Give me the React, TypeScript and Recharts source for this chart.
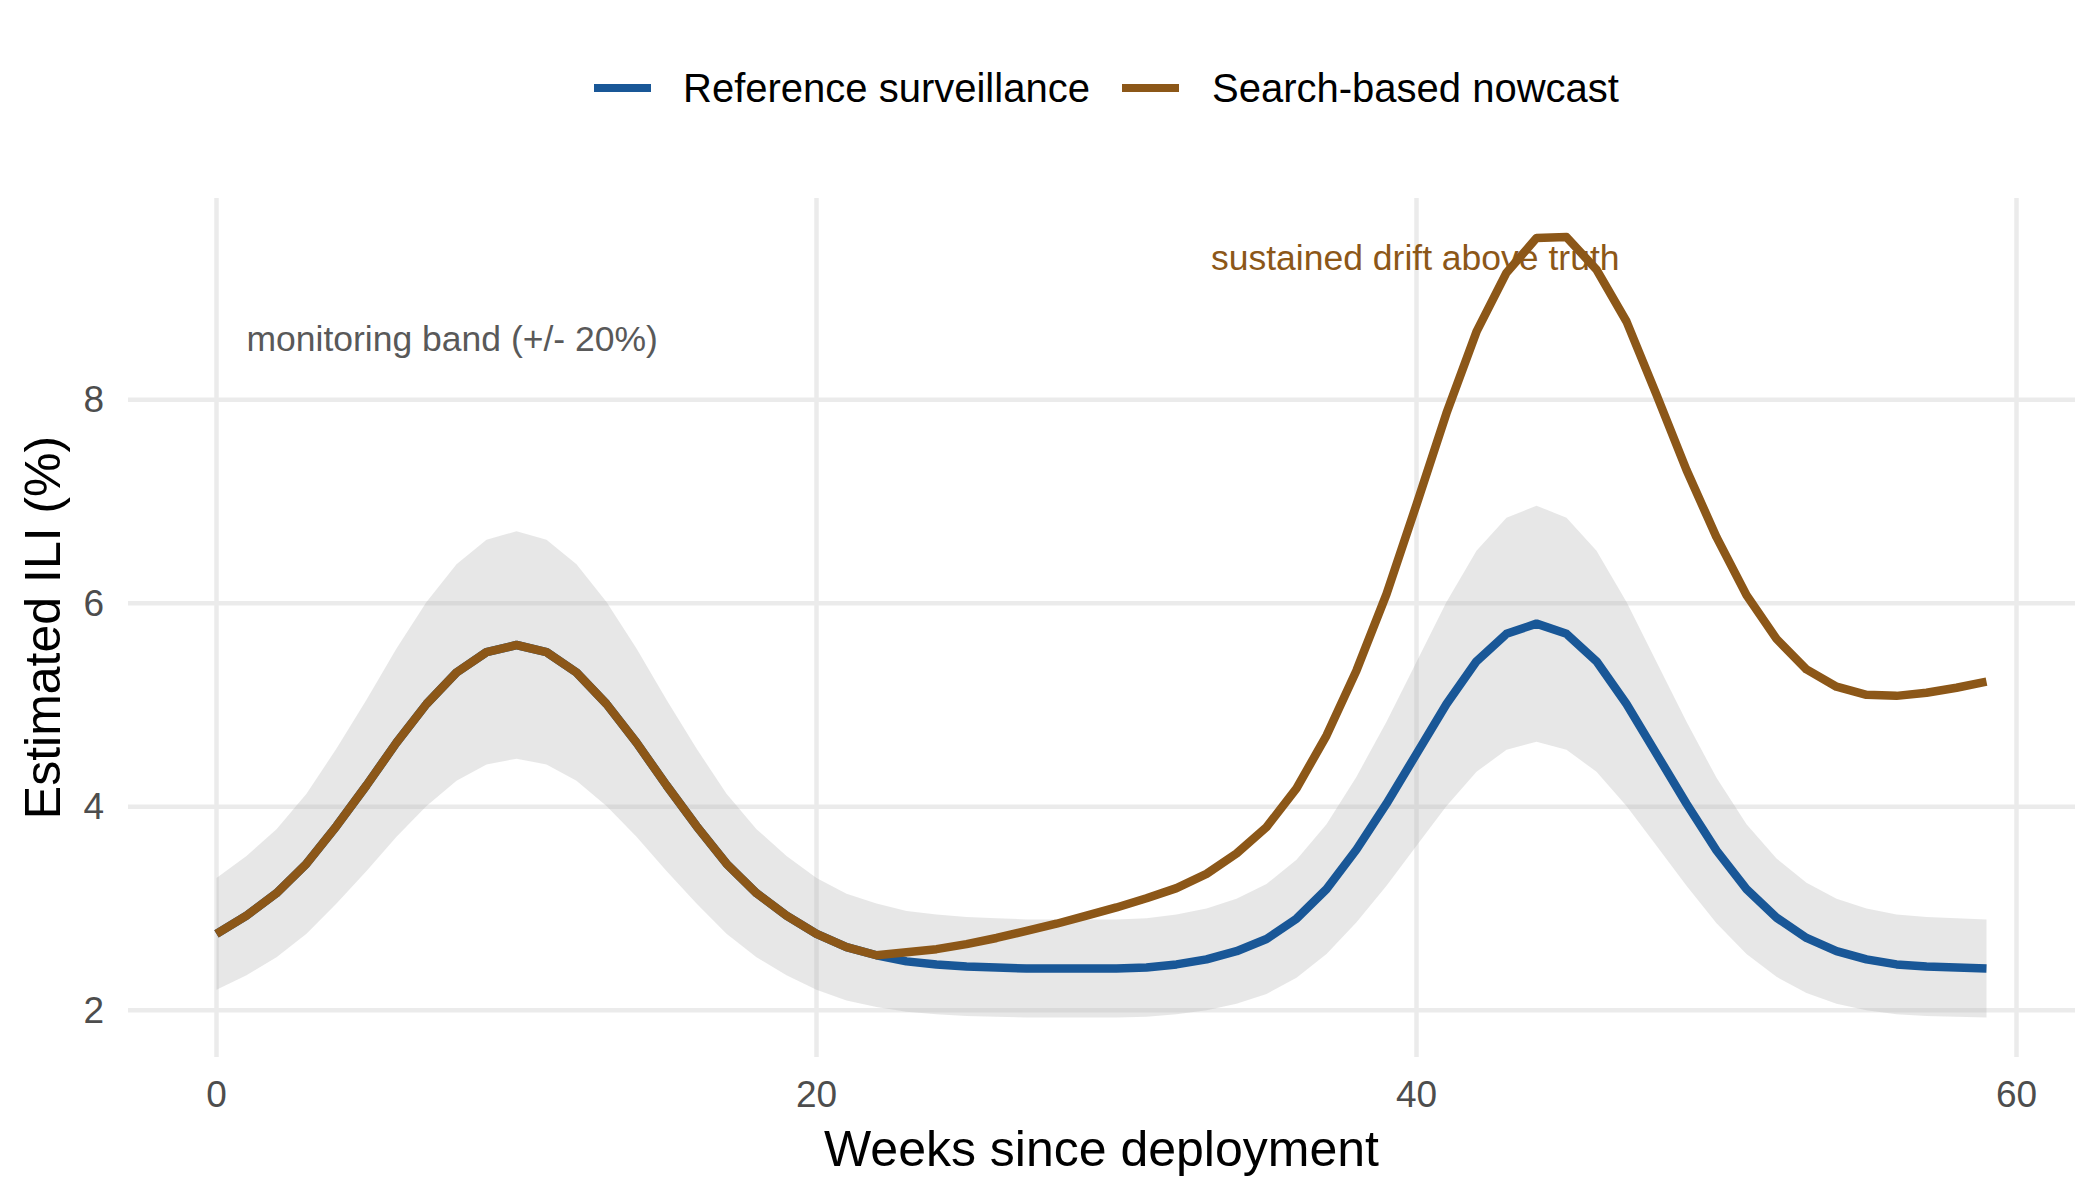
import React from "react"
import { ComposedChart, Line, Area, XAxis, YAxis, CartesianGrid, ReferenceDot, Label } from "recharts"

// weekly values
const weeks = Array.from({ length: 60 }, (_, i) => i)

const reference = [
  2.75, 2.93, 3.15, 3.44, 3.81, 4.21, 4.63, 5.01, 5.32, 5.52,
  5.59, 5.52, 5.32, 5.01, 4.63, 4.21, 3.81, 3.44, 3.15, 2.93,
  2.75, 2.62, 2.54, 2.48, 2.45, 2.43, 2.42, 2.41, 2.41, 2.41,
  2.41, 2.42, 2.45, 2.5, 2.58, 2.7, 2.9, 3.19, 3.58, 4.03,
  4.52, 5.01, 5.43, 5.7, 5.8, 5.7, 5.43, 5.01, 4.52, 4.03,
  3.57, 3.19, 2.91, 2.71, 2.58, 2.5, 2.45, 2.43, 2.42, 2.41,
]

const nowcast = [
  2.75, 2.93, 3.15, 3.44, 3.81, 4.21, 4.63, 5.01, 5.32, 5.52,
  5.59, 5.52, 5.32, 5.01, 4.63, 4.21, 3.81, 3.44, 3.15, 2.93,
  2.75, 2.62, 2.54, 2.57, 2.6, 2.65, 2.71, 2.78, 2.85, 2.93,
  3.01, 3.1, 3.2, 3.34, 3.54, 3.8, 4.18, 4.7, 5.34, 6.09,
  6.97, 7.87, 8.67, 9.25, 9.59, 9.6, 9.28, 8.77, 8.05, 7.31,
  6.65, 6.08, 5.65, 5.35, 5.18, 5.1, 5.09, 5.12, 5.17, 5.23,
]

// monitoring band is +/- 20% around the reference series
const bandPct = 0.2

const xTicks = [0, 20, 40, 60]
const yTicks = [2, 4, 6, 8]

const seriesNames = ["Reference surveillance", "Search-based nowcast"]
const seriesColors = ["#195797", "#8c5718"]

const bandNote = { x: 1, y: 8.6, text: "monitoring band (+/- 20%)" }
const driftNote = { x: 33.15, y: 9.4, text: "sustained drift above truth" }

const FONT = "'Liberation Sans', Arial, Helvetica, sans-serif"

const data = weeks.map((w, i) => ({
  week: w,
  reference: reference[i],
  nowcast: nowcast[i],
  band: [reference[i] * (1 - bandPct), reference[i] * (1 + bandPct)],
}))

const XTick = ({ x, y, payload }: any) => (
  <text x={x} y={y + 37} textAnchor="middle" dominantBaseline="central" fontSize={37} fontFamily={FONT} fill="#4d4d4d">
    {payload.value}
  </text>
)

const YTick = ({ x, y, payload }: any) => (
  <text x={x - 24} y={y} textAnchor="end" dominantBaseline="central" fontSize={37} fontFamily={FONT} fill="#4d4d4d">
    {payload.value}
  </text>
)

const XTitle = ({ viewBox }: any) => (
  <text x={viewBox.x + viewBox.width / 2} y={viewBox.y + 92} textAnchor="middle" dominantBaseline="central" fontSize={50} fontFamily={FONT} fill="#000">
    Weeks since deployment
  </text>
)

const YTitle = ({ viewBox }: any) => {
  const cx = 43
  const cy = viewBox.y + viewBox.height / 2
  return (
    <text x={cx} y={cy} transform={`rotate(-90 ${cx} ${cy})`} textAnchor="middle" dominantBaseline="central" fontSize={50} fontFamily={FONT} fill="#000">
      Estimated ILI (%)
    </text>
  )
}

function TopLegend() {
  const items = [
    { key: 594, text: 683 },
    { key: 1122, text: 1212 },
  ]
  return (
    <svg width={2100} height={150} style={{ position: "absolute", left: 0, top: 0 }}>
      {items.map((it, i) => (
        <g key={i}>
          <line x1={it.key} x2={it.key + 57} y1={88} y2={88} stroke={seriesColors[i]} strokeWidth={8} />
          <text x={it.text} y={88} dominantBaseline="central" fontSize={40} fontFamily={FONT} fill="#000">
            {seriesNames[i]}
          </text>
        </g>
      ))}
    </svg>
  )
}

export default function App() {
  return (
    <div style={{ position: "absolute", left: 0, top: 0, width: 2100, height: 1200, background: "#fff" }}>
      <ComposedChart width={2100} height={1200} data={data} margin={{ top: 198, right: 25, bottom: 0, left: 0 }}>
        <CartesianGrid stroke="#ebebeb" strokeWidth={4.5} syncWithTicks />
        <XAxis
          dataKey="week"
          type="number"
          domain={[-2.95, 61.95]}
          ticks={xTicks}
          axisLine={false}
          tickLine={false}
          tickSize={0}
          tickMargin={0}
          height={143}
          tick={<XTick />}
          interval={0}
        >
          <Label content={<XTitle />} />
        </XAxis>
        <YAxis
          type="number"
          domain={[1.54, 9.984]}
          ticks={yTicks}
          axisLine={false}
          tickLine={false}
          tickSize={0}
          tickMargin={0}
          width={128}
          tick={<YTick />}
          interval={0}
        >
          <Label content={<YTitle />} />
        </YAxis>
        <Area
          dataKey="band"
          type="linear"
          stroke="none"
          fill="#b0b0b0"
          fillOpacity={0.3}
          dot={false}
          activeDot={false}
          isAnimationActive={false}
        />
        <Line
          dataKey="reference"
          name={seriesNames[0]}
          type="linear"
          stroke={seriesColors[0]}
          strokeWidth={8.5}
          strokeLinejoin="round"
          dot={false}
          activeDot={false}
          isAnimationActive={false}
        />
        <Line
          dataKey="nowcast"
          name={seriesNames[1]}
          type="linear"
          stroke={seriesColors[1]}
          strokeWidth={8.5}
          strokeLinejoin="round"
          dot={false}
          activeDot={false}
          isAnimationActive={false}
        />
        <ReferenceDot
          x={bandNote.x}
          y={bandNote.y}
          r={0}
          fill="none"
          stroke="none"
          label={{ value: bandNote.text, position: "right", offset: 0, fill: "#595959", fontSize: 35.5, fontFamily: FONT }}
        />
        <ReferenceDot
          x={driftNote.x}
          y={driftNote.y}
          r={0}
          fill="none"
          stroke="none"
          label={{ value: driftNote.text, position: "right", offset: 0, fill: seriesColors[1], fontSize: 35.5, fontFamily: FONT }}
        />
      </ComposedChart>
      <TopLegend />
    </div>
  )
}
